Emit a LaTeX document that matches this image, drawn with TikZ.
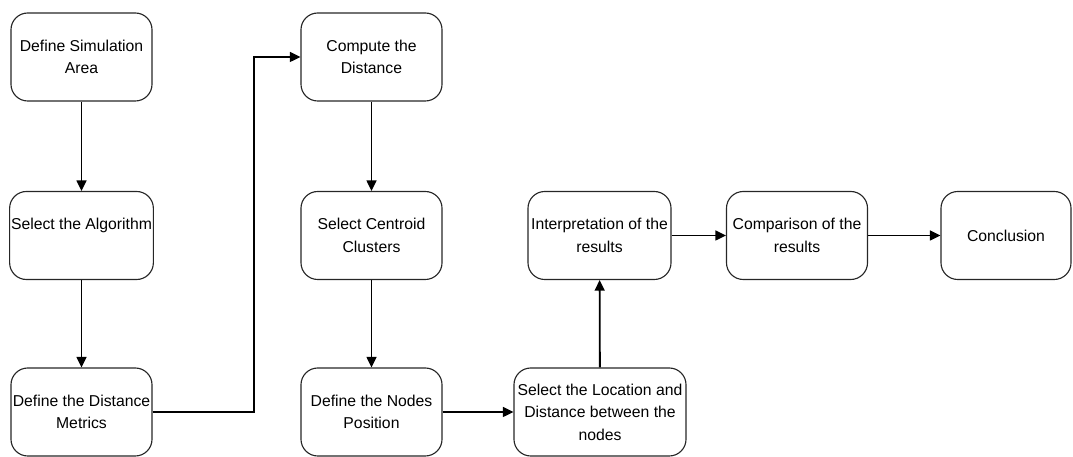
\documentclass[tikz,border=0pt]{standalone}
\usepackage{fontspec}
\setmainfont{Liberation Sans}
\usepackage{tikz}
\usetikzlibrary{arrows.meta, positioning}

\begin{document}
\begin{tikzpicture}[
  x=0.025cm, y=-0.025cm,
  stage/.style={draw=black!85, line width=0.8pt, rounded corners=0.42cm, minimum width=3.525cm, minimum height=2.2cm, align=center, inner sep=1pt, font=\fontsize{11.2pt}{16pt}\selectfont, text=black},
  flow/.style={draw=black, line width=1.3pt, -{Triangle[length=7.5pt,width=7pt]}}
]
\useasboundingbox (0,0) rectangle (1073,457);
\node[stage] (area) at (81.5,57) {Define Simulation\\Area};
\node[stage] (algo) at (81.5,235.5) {Select the Algorithm\\\mbox{}};
\node[stage] (metrics) at (81.5,412) {Define the Distance\\Metrics};
\node[stage] (compute) at (371.5,57) {Compute the\\Distance};
\node[stage] (centroid) at (371.5,235.5) {Select Centroid\\Clusters};
\node[stage] (nodepos) at (371.5,412) {Define the Nodes\\Position};
\node[stage, minimum width=4.3cm] (location) at (600,412) {Select the Location and\\Distance between the\\nodes};
\node[stage, minimum width=3.575cm] (interp) at (599.5,235.5) {Interpretation of the\\results};
\node[stage] (compar) at (797,235.5) {Comparison of the\\results};
\node[stage, minimum width=3.25cm] (concl) at (1006,235.5) {Conclusion};
\coordinate (turn) at (254,57);
\draw[flow] (area) -- (algo);
\draw[flow] (algo) -- (metrics);
\draw[flow] (metrics.east) -| (turn) -- (compute.west);
\draw[flow] (compute) -- (centroid);
\draw[flow] (centroid) -- (nodepos);
\draw[flow] (nodepos) -- (location);
\draw[flow] (location) -- (interp);
\draw[flow] (interp) -- (compar);
\draw[flow] (compar) -- (concl);
\end{tikzpicture}
\end{document}
